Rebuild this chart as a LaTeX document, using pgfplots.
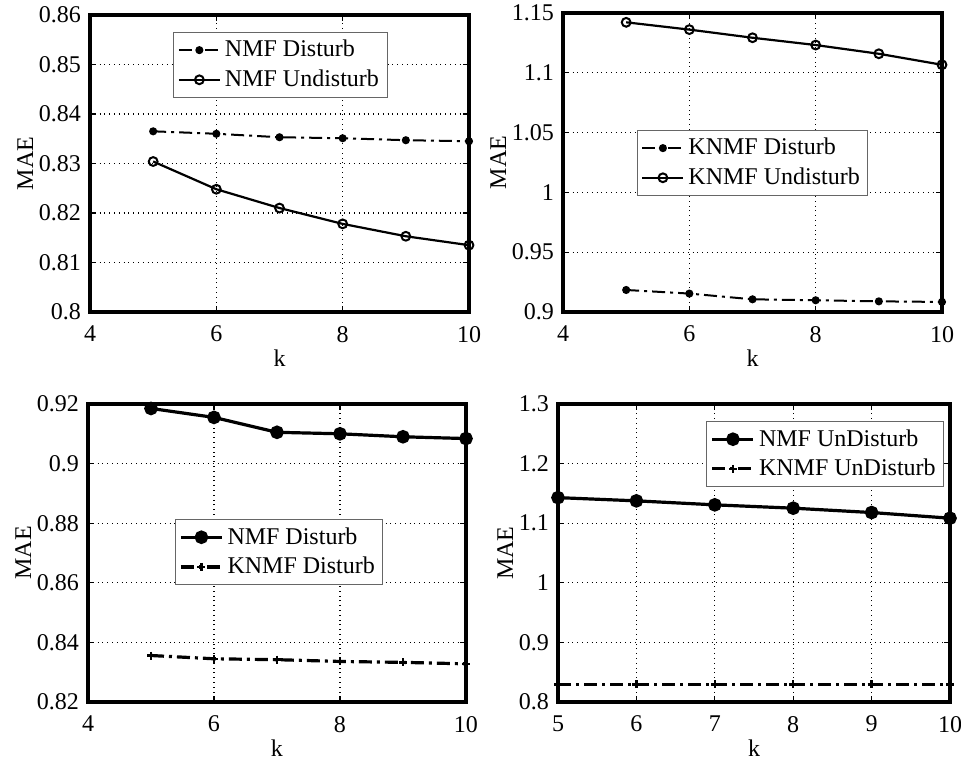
\documentclass[border=0pt]{standalone}
\usepackage{fontspec}
\setmainfont{Liberation Serif}
\usepackage{pgfplots}
\pgfplotsset{compat=1.18}
\pgfplotsset{
  mystyle/.style={
    scale only axis,
    axis line style={line width=1.6pt},
    grid=major,
    major grid style={black, dotted, line width=0.6pt},
    tick align=inside,
    tick style={black, line width=0.6pt},
    major tick length=3pt,
    every tick label/.style={font=\fontsize{12}{14}\selectfont},
    xticklabel style={yshift=-3.5pt},
    yticklabel style={xshift=-1pt},
    label style={font=\fontsize{12}{14}\selectfont},
    /pgf/number format/assume math mode=true,
    /pgf/number format/fixed,
    /pgf/number format/precision=2,
    ylabel={MAE}, xlabel={k},
    ylabel style={yshift=-4pt},
    xlabel style={yshift=3pt},
    legend style={font=\fontsize{12}{14}\selectfont, draw=black!60, line width=0.4pt, inner sep=2pt, row sep=1pt, fill=white},
    legend cell align=left,
    legend image code/.code={\draw[mark repeat=2,mark phase=2,##1] plot coordinates {(0cm,0cm) (0.36cm,0cm) (0.72cm,0cm)};},
    clip=false,
  },
  dashdot/.style={dash pattern=on 6.5pt off 2.5pt on 1.5pt off 2.5pt},
}
\begin{document}
\begin{tikzpicture}
\path[use as bounding box] (0,0) rectangle (480.5pt,381.5pt);

% top-left
\begin{axis}[mystyle, at={(45pt,225.5pt)}, anchor=south west,
  width=189.5pt, height=148.5pt,
  xmin=4, xmax=10, ymin=0.8, ymax=0.86,
  xtick={4,6,8,10}, ytick={0.8,0.81,0.82,0.83,0.84,0.85,0.86},
  legend style={at={(rel axis cs:0.22,0.943)}, anchor=north west}]
\addplot[black, line width=1pt, dashdot, mark=*, mark size=1.5pt, mark options={solid}]
  coordinates {(5,0.8365) (6,0.8360) (7,0.8353) (8,0.8351) (9,0.8347) (10,0.8345)};
\addlegendentry{NMF Disturb}
\addplot[black, line width=1.1pt, mark=o, mark size=2.2pt, mark options={solid, line width=1pt}]
  coordinates {(5,0.8304) (6,0.8248) (7,0.8210) (8,0.8178) (9,0.8153) (10,0.8135)};
\addlegendentry{NMF Undisturb}
\end{axis}

% top-right
\begin{axis}[mystyle, at={(281.5pt,225.5pt)}, anchor=south west,
  width=189.5pt, height=149.5pt,
  xmin=4, xmax=10, ymin=0.9, ymax=1.15,
  xtick={4,6,8,10}, ytick={0.9,0.95,1,1.05,1.1,1.15},
  legend style={at={(rel axis cs:0.195,0.609)}, anchor=north west}]
\addplot[black, line width=1pt, dashdot, mark=*, mark size=1.5pt, mark options={solid}]
  coordinates {(5,0.9184) (6,0.9154) (7,0.9106) (8,0.9098) (9,0.9089) (10,0.9084)};
\addlegendentry{KNMF Disturb}
\addplot[black, line width=1.1pt, mark=o, mark size=2.2pt, mark options={solid, line width=1pt}]
  coordinates {(5,1.1422) (6,1.1361) (7,1.1293) (8,1.1232) (9,1.1159) (10,1.1067)};
\addlegendentry{KNMF Undisturb}
\end{axis}

% bottom-left
\begin{axis}[mystyle, at={(44pt,30.5pt)}, anchor=south west,
  width=189pt, height=149pt,
  xmin=4, xmax=10, ymin=0.82, ymax=0.92,
  xtick={4,6,8,10}, ytick={0.82,0.84,0.86,0.88,0.9,0.92},
  legend style={at={(rel axis cs:0.23,0.614)}, anchor=north west}]
\addplot[black, line width=1.6pt, mark=*, mark size=2.6pt, mark options={solid}]
  coordinates {(5,0.9185) (6,0.9155) (7,0.9105) (8,0.9100) (9,0.9090) (10,0.9084)};
\addlegendentry{NMF Disturb}
\addplot[black, line width=1.6pt, dashdot, mark=+, mark size=2pt, mark options={solid, line width=1.2pt}]
  coordinates {(5,0.8356) (6,0.8345) (7,0.8342) (8,0.8336) (9,0.8333) (10,0.8328)};
\addlegendentry{KNMF Disturb}
\end{axis}

% bottom-right
\begin{axis}[mystyle, at={(279pt,30.5pt)}, anchor=south west,
  width=196pt, height=149pt,
  xmin=5, xmax=10, ymin=0.8, ymax=1.3,
  xtick={5,6,7,8,9,10}, ytick={0.8,0.9,1,1.1,1.2,1.3},
  legend style={at={(rel axis cs:0.985,0.943)}, anchor=north east}]
\addplot[black, line width=1.6pt, mark=*, mark size=2.6pt, mark options={solid}]
  coordinates {(5,1.1429) (6,1.1375) (7,1.1308) (8,1.1252) (9,1.1179) (10,1.1084)};
\addlegendentry{NMF UnDisturb}
\addplot[black, line width=1.6pt, dashdot, mark=+, mark size=2pt, mark options={solid, line width=1.2pt}]
  coordinates {(5,0.8295) (6,0.8295) (7,0.8295) (8,0.8295) (9,0.8295) (10,0.8295)};
\addlegendentry{KNMF UnDisturb}
\end{axis}
\end{tikzpicture}
\end{document}
